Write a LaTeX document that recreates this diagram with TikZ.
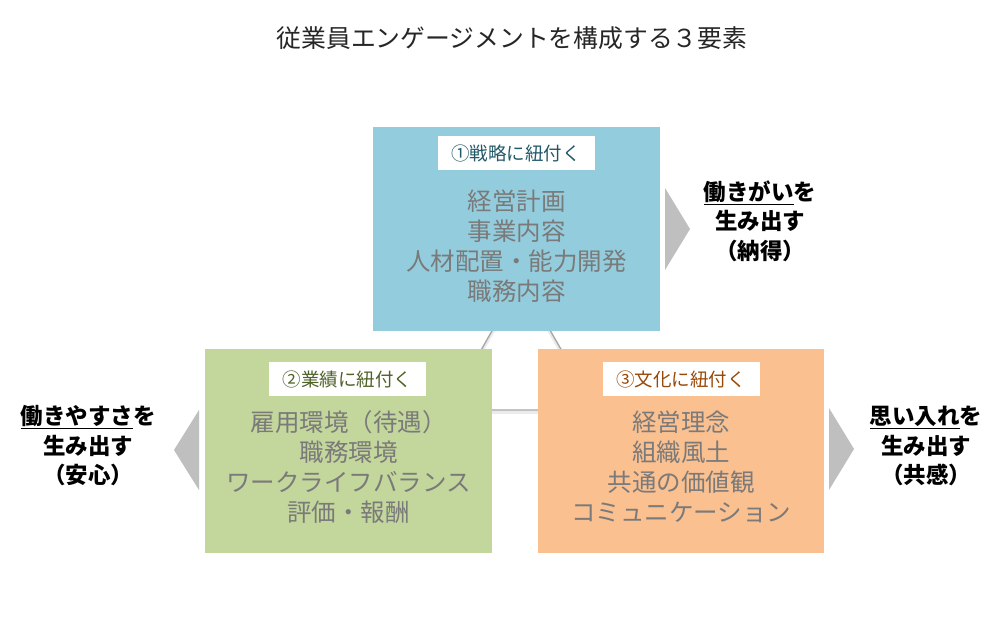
\documentclass[tikz,border=0pt]{standalone}
\usepackage{fontspec}
\setmainfont{Noto Sans CJK JP}
\newfontfamily\cjk{Noto Sans CJK JP}
\definecolor{boxblue}{HTML}{93CDDD}
\definecolor{boxgreen}{HTML}{C3D69B}
\definecolor{boxorange}{HTML}{FAC090}
\definecolor{labblue}{HTML}{215968}
\definecolor{labgreen}{HTML}{4F6228}
\definecolor{laborange}{HTML}{984807}
\definecolor{bodygray}{HTML}{7A7A7A}
\definecolor{arrowgray}{HTML}{BFBFBF}
\definecolor{linegray}{HTML}{A6A6A6}
\definecolor{titlecol}{HTML}{262626}
\tikzset{
  labelbox/.style={fill=white, inner sep=0pt, minimum width=157pt, minimum height=34pt, font=\cjk\fontsize{18.5}{22}\selectfont},
  bodytext/.style={text=bodygray, align=center, inner sep=0pt, font=\cjk\fontsize{24.5}{30}\selectfont},
  sidetext/.style={text=black, align=center, inner sep=0pt, font=\cjk\bfseries\fontsize{22.5}{29.5}\selectfont},
  tri/.style={fill=arrowgray, draw=none},
  triline/.style={draw=linegray, line width=1.3pt},
  trishadow/.style={draw=black!8, line width=3.5pt}
}
\begin{document}
\begin{tikzpicture}[x=1pt,y=-1pt]
\useasboundingbox (0,0) rectangle (1000,626);
\fill[white] (0,0) rectangle (1000,626);
% title
\node[text=titlecol, inner sep=0pt, font=\cjk\fontsize{24.8}{28}\selectfont] (title) at (512,38) {従業員エンゲージメントを構成する３要素};
% background triangle
\coordinate (apex) at (521,280);
\coordinate (bl) at (447,410);
\coordinate (br) at (596,410);
\draw[trishadow] ([yshift=-2pt]apex) -- ([yshift=-2pt]bl) -- ([yshift=-2pt]br) -- cycle;
\draw[triline] (apex) -- (bl) -- (br) -- cycle;
% panels
\fill[boxblue] (373,127) rectangle (660,331);
\fill[boxgreen] (205,349) rectangle (492,553);
\fill[boxorange] (538,349) rectangle (824,553);
% labels
\node[labelbox, text=labblue] (lab1) at (516,153) {①戦略に紐付く};
\node[labelbox, text=labgreen] (lab2) at (347.5,379) {②業績に紐付く};
\node[labelbox, text=laborange] (lab3) at (681,379) {③文化に紐付く};
% body texts
\node[bodytext] (body1) at (516.5,246) {経営計画\\事業内容\\人材配置・能力開発\\職務内容};
\node[bodytext] (body2) at (348.5,467) {雇用環境（待遇）\\職務環境\\ワークライフバランス\\評価・報酬};
\node[bodytext] (body3) at (681,467) {経営理念\\組織風土\\共通の価値観\\コミュニケーション};
% arrows
\fill[tri] (665,188) -- (690,229) -- (665,270) -- cycle;
\fill[tri] (199,410) -- (174,450) -- (199,490) -- cycle;
\fill[tri] (829,408) -- (854,449) -- (829,490) -- cycle;
% side texts
\node[sidetext] (side1) at (760,221) {\underline{働きがい}を\\生み出す\\（納得）};
\node[sidetext] (side2) at (88,446) {\underline{働きやすさ}を\\生み出す\\（安心）};
\node[sidetext] (side3) at (926,446) {\underline{思い入れ}を\\生み出す\\（共感）};
\end{tikzpicture}
\end{document}
